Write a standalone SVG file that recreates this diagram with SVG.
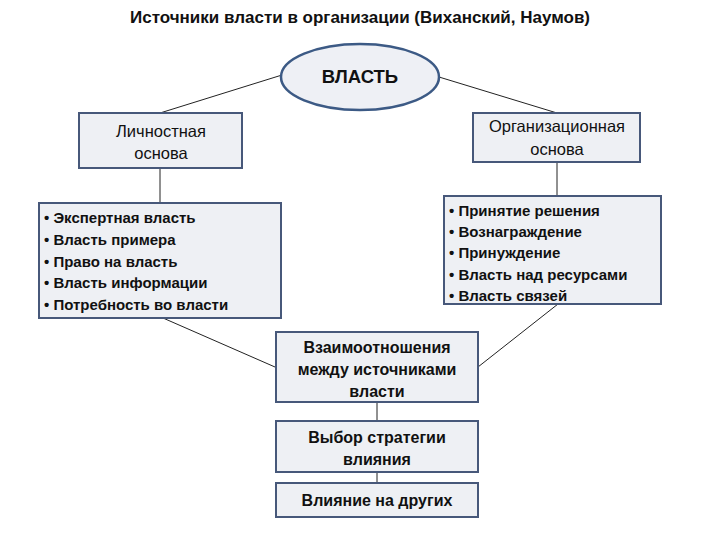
<svg xmlns="http://www.w3.org/2000/svg" width="720" height="540" viewBox="0 0 720 540">
<style>
.bx{fill:#eef0f4;stroke:#47587a;stroke-width:2}
.ln{stroke:#222;stroke-width:1;fill:none}
.t{font-family:"Liberation Sans",Arial,sans-serif;font-size:15px;fill:#111}
.m{font-size:16px}
.h{font-size:16.5px}
.c{text-anchor:middle}
.b{font-weight:bold}
</style>
<rect width="720" height="540" fill="#fff"/>
<text class="t b c" x="360" y="23" style="font-size:17px">Источники власти в организации (Виханский, Наумов)</text>
<g id="connectors">
<line class="ln" x1="282" y1="75" x2="160" y2="113"/>
<line class="ln" x1="439" y1="77" x2="557" y2="113"/>
<line class="ln" x1="160" y1="168" x2="160" y2="203"/>
<line class="ln" x1="557" y1="162" x2="557" y2="196"/>
<line class="ln" x1="163" y1="318" x2="275" y2="367"/>
<line class="ln" x1="558" y1="304" x2="478" y2="367"/>
<line class="ln" x1="377" y1="402" x2="377" y2="421"/>
<line class="ln" x1="377" y1="472" x2="377" y2="483"/>
</g>
<g id="vlast">
<ellipse cx="360" cy="77" rx="79" ry="33" fill="#eef0f5" stroke="#3c5a85" stroke-width="2.5"/>
<text class="t b c" x="360" y="83" style="font-size:18.5px">ВЛАСТЬ</text>
</g>
<g id="lichnostnaya">
<rect class="bx" x="79" y="113" width="163" height="55"/>
<text class="t h c" x="161" y="137">Личностная</text>
<text class="t h c" x="161" y="159">основа</text>
</g>
<g id="organizatsionnaya">
<rect class="bx" x="473" y="113" width="167" height="49"/>
<text class="t h c" x="557" y="132">Организационная</text>
<text class="t h c" x="557" y="155">основа</text>
</g>
<g id="list-left">
<rect class="bx" x="39" y="203" width="242" height="115"/>
<text class="t b" x="44" y="223">• Экспертная власть</text>
<text class="t b" x="44" y="245">• Власть примера</text>
<text class="t b" x="44" y="267">• Право на власть</text>
<text class="t b" x="44" y="288">• Власть информации</text>
<text class="t b" x="44" y="310">• Потребность во власти</text>
</g>
<g id="list-right">
<rect class="bx" x="444" y="196" width="217" height="108"/>
<text class="t b" x="449" y="216">• Принятие решения</text>
<text class="t b" x="449" y="237">• Вознаграждение</text>
<text class="t b" x="449" y="258">• Принуждение</text>
<text class="t b" x="449" y="280">• Власть над ресурсами</text>
<text class="t b" x="449" y="301">• Власть связей</text>
</g>
<g id="vzaimo">
<rect class="bx" x="276" y="332" width="202" height="70"/>
<text class="t m b c" x="377" y="353">Взаимоотношения</text>
<text class="t m b c" x="377" y="375">между источниками</text>
<text class="t m b c" x="377" y="397">власти</text>
</g>
<g id="vybor">
<rect class="bx" x="276" y="421" width="202" height="51"/>
<text class="t m b c" x="377" y="443">Выбор стратегии</text>
<text class="t m b c" x="377" y="465">влияния</text>
</g>
<g id="vliyanie">
<rect class="bx" x="276" y="483" width="202" height="34"/>
<text class="t m b c" x="377" y="506">Влияние на других</text>
</g>
</svg>
